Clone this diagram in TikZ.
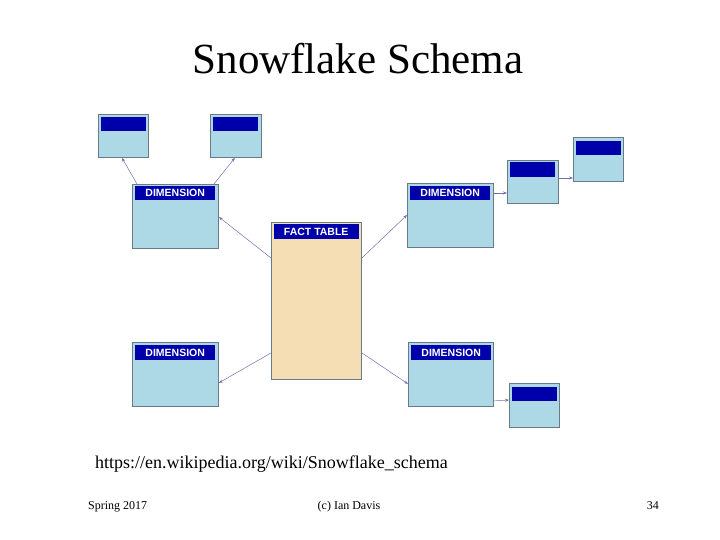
\documentclass[tikz,border=0pt]{standalone}
\usepackage{fontspec}
\setmainfont{Liberation Serif}
\newfontfamily\arialfont{Liberation Sans}
\usetikzlibrary{arrows.meta}
\definecolor{boxblue}{HTML}{ADD8E6}
\definecolor{hdrblue}{HTML}{0000AA}
\definecolor{factfill}{HTML}{F5DEB3}
\definecolor{edgegray}{HTML}{6A7A88}
\definecolor{linkcol}{HTML}{7070B0}
\tikzset{
  tbl/.style={draw=edgegray, line width=0.9pt, fill=boxblue, anchor=north west, inner sep=0pt, minimum width=#1},
  facttbl/.style={draw=edgegray, line width=0.9pt, fill=factfill, anchor=north west, inner sep=0pt},
  hdr/.style={fill=hdrblue, anchor=north west, inner sep=0pt, text=white, font=\arialfont\bfseries\fontsize{10.5}{11}\selectfont},
  link/.style={draw=linkcol, line width=0.5pt, -{Stealth[length=4pt,width=3pt]}},
  txt/.style={anchor=base, inner sep=0pt}
}
\begin{document}
\begin{tikzpicture}[x=1pt,y=-1pt]
\useasboundingbox (0,0) rectangle (720,540);
% title
\node[txt, font=\fontsize{43}{46}\selectfont] (title) at (358,74) {Snowflake Schema};
% fact table
\node[facttbl, minimum width=90pt, minimum height=157pt] (fact) at (271,222) {};
\node[hdr, minimum width=85pt, minimum height=15pt] (facth) at (273.5,224) {FACT TABLE};
% dimensions
\node[tbl=86pt, minimum height=64pt] (dtl) at (132,184) {};
\node[hdr, minimum width=80pt, minimum height=14pt] (dtlh) at (135,186) {DIMENSION};
\node[tbl=86pt, minimum height=64pt] (dtr) at (407,183) {};
\node[hdr, minimum width=80pt, minimum height=14pt] (dtrh) at (410,186) {DIMENSION};
\node[tbl=86pt, minimum height=64pt] (dbl) at (132,342) {};
\node[hdr, minimum width=80pt, minimum height=15pt] (dblh) at (135,345) {DIMENSION};
\node[tbl=85pt, minimum height=64pt] (dbr) at (408,342) {};
\node[hdr, minimum width=80pt, minimum height=15pt] (dbrh) at (411,345) {DIMENSION};
% small tables
\node[tbl=50pt, minimum height=43pt] (s1) at (98,114) {};
\node[hdr, minimum width=45pt, minimum height=14pt] (s1h) at (100.5,117) {};
\node[tbl=51pt, minimum height=43pt] (s2) at (210,114) {};
\node[hdr, minimum width=45pt, minimum height=14pt] (s2h) at (213,117) {};
\node[tbl=51pt, minimum height=43pt] (s3) at (507,160) {};
\node[hdr, minimum width=45pt, minimum height=15pt] (s3h) at (510,162) {};
\node[tbl=50pt, minimum height=44pt] (s4) at (573,137) {};
\node[hdr, minimum width=45pt, minimum height=14pt] (s4h) at (576,141) {};
\node[tbl=50pt, minimum height=44pt] (s5) at (509,383) {};
\node[hdr, minimum width=45pt, minimum height=14pt] (s5h) at (512,387) {};
% connectors
\draw[link] ([yshift=-36pt]fact.north west) -- ([yshift=-33pt]dtl.north east);
\draw[link] ([yshift=-36pt]fact.north east) -- ([yshift=-32pt]dtr.north west);
\draw[link] ([yshift=27pt]fact.south west) -- ([yshift=24pt]dbl.south east);
\draw[link] ([yshift=27pt]fact.south east) -- ([yshift=23pt]dbr.south west);
\draw[link] ([xshift=5pt]dtl.north west) -- ([xshift=24pt]s1.south west);
\draw[link] ([xshift=-5pt]dtl.north east) -- ([xshift=-27pt]s2.south east);
\draw[link] ([yshift=-10pt]dtr.north east) -- ([yshift=-33pt]s3.north west);
\draw[link] ([yshift=-18pt]s3.north east) -- ([yshift=-41pt]s4.north west);
\draw[link] ([yshift=6pt]dbr.south east) -- ([yshift=-17pt]s5.north west);
% texts
\node[txt, anchor=base west, font=\fontsize{18}{20}\selectfont] (url) at (95,468) {https://en.wikipedia.org/wiki/Snowflake\_schema};
\node[txt, anchor=base west, font=\fontsize{12}{14}\selectfont] (f1) at (88,509) {Spring 2017};
\node[txt, font=\fontsize{12}{14}\selectfont] (f2) at (349,509) {(c) Ian Davis};
\node[txt, anchor=base east, font=\fontsize{12}{14}\selectfont] (f3) at (659,509) {34};
\end{tikzpicture}
\end{document}
